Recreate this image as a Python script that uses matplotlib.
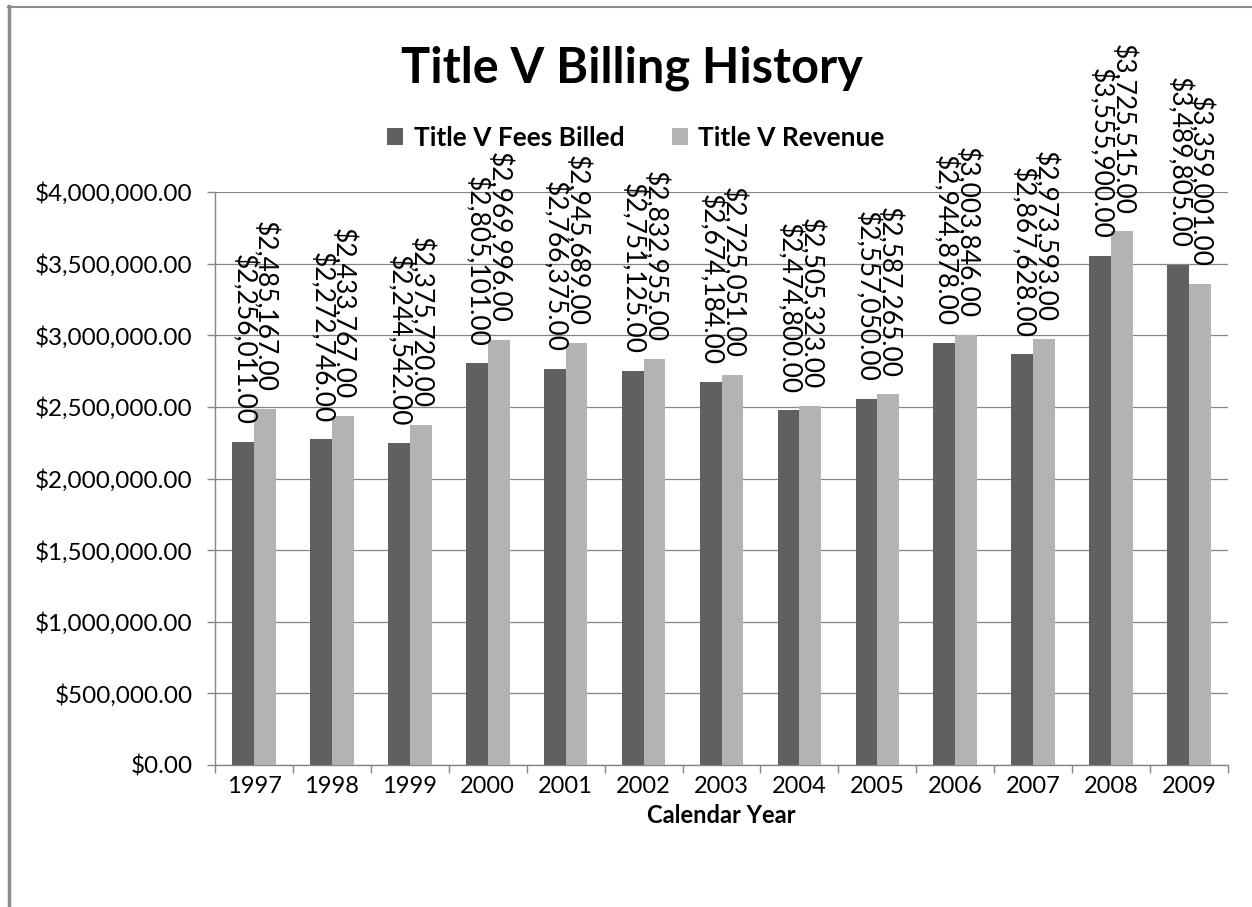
import numpy as np
import matplotlib
matplotlib.use("Agg")
from matplotlib import pyplot as plt
from matplotlib.lines import Line2D

years = ['1997', '1998', '1999', '2000', '2001', '2002', '2003',
         '2004', '2005', '2006', '2007', '2008', '2009']
fees_billed = [2256011, 2272746, 2244542, 2805101, 2766375, 2751125, 2674184,
               2474800, 2557050, 2944878, 2867628, 3555900, 3489805]
revenue = [2485167, 2433767, 2375720, 2969996, 2945689, 2832955, 2725051,
           2505323, 2587265, 3003846, 2973593, 3725515, 3359001]

plt.rcParams['font.family'] = ['Lato', 'DejaVu Sans']

W, H = 1252, 907
fig = plt.figure(figsize=(W / 100, H / 100), dpi=100)
ax = fig.add_axes([215 / W, 1 - 765 / H, (1228 - 215) / W, (765 - 192) / H])

x = np.arange(len(years))
bw = 0.28
dark, light = '#606060', '#b3b3b3'
b1 = ax.bar(x - bw / 2, fees_billed, bw, color=dark, label='Title V Fees Billed', zorder=3)
b2 = ax.bar(x + bw / 2, revenue, bw, color=light, label='Title V Revenue', zorder=3)

# data labels, rotated, sitting on top of each bar (they overlap, as in the original)
for bars in (b1, b2):
    for r in bars:
        v = r.get_height()
        ax.annotate('${:,.2f}'.format(v), (r.get_x() + r.get_width() / 2, v),
                    xytext=(0, 12), textcoords='offset points', rotation=-90,
                    ha='center', va='bottom', fontsize=19, color='black',
                    annotation_clip=False, zorder=4)

ax.set_xlim(-0.5, len(years) - 0.5)
ax.set_ylim(0, 4000000)
ax.set_yticks(np.arange(0, 4000001, 500000))
ax.yaxis.set_major_formatter(matplotlib.ticker.FuncFormatter(lambda v, p: '${:,.2f}'.format(v)))
ax.set_xticks(x)
ax.set_xticklabels(years)
ax.set_xticks(np.arange(-0.5, len(years), 1), minor=True)
ax.tick_params(axis='x', which='major', length=0, pad=8, labelsize=17)
ax.tick_params(axis='x', which='minor', length=6, width=1, color='#868686', direction='out')
ax.tick_params(axis='y', length=6, width=1, color='#868686', direction='out', pad=10, labelsize=17.5)

ax.grid(axis='y', color='#868686', lw=0.9, zorder=0)
for s in ('top', 'right'):
    ax.spines[s].set_visible(False)
for s in ('left', 'bottom'):
    ax.spines[s].set_color('#868686')
    ax.spines[s].set_linewidth(1)

ax.set_xlabel('Calendar Year', fontsize=17, fontweight='bold', labelpad=5)

fig.text(632 / W, 1 - 68 / H, 'Title V Billing History', ha='center', va='center',
         fontsize=35, fontweight='bold')

ax.legend(loc='center', bbox_to_anchor=(636 / W, 1 - 138 / H), bbox_transform=fig.transFigure,
          ncol=2, frameon=False, prop={'weight': 'bold', 'size': 19},
          handlelength=0.6, handleheight=0.6, handletextpad=0.4, columnspacing=1.8)

# chart border (only top and left edges visible)
fig.add_artist(Line2D([9 / W, 9 / W], [0, 1 - 6 / H], transform=fig.transFigure,
                      color='#8c8c8c', lw=2.5))
fig.add_artist(Line2D([8 / W, 1], [1 - 6.5 / H, 1 - 6.5 / H], transform=fig.transFigure,
                      color='#8c8c8c', lw=1.5))

fig.savefig('out.png', dpi=100)
